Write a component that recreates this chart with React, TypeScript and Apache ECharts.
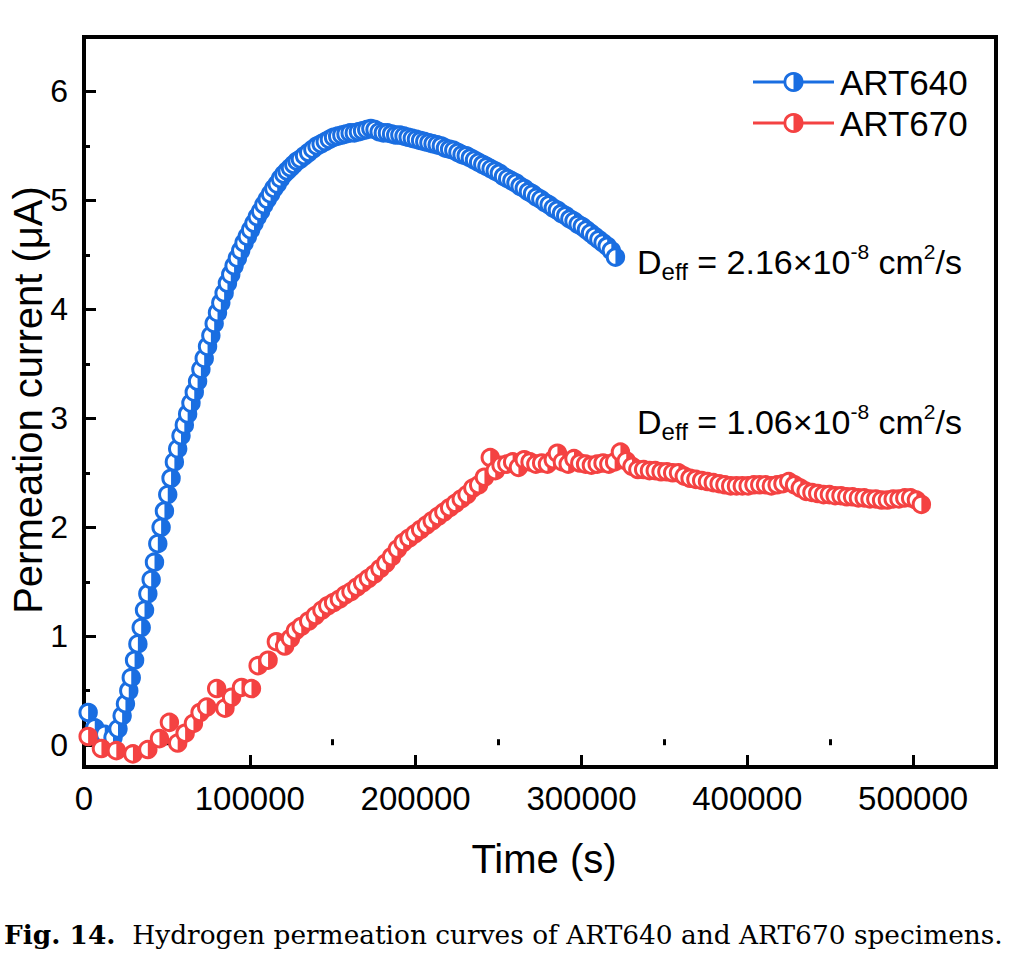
import React, { useEffect, useRef } from "react";
import * as echarts from "echarts";

// ---------- data ----------
const art640Time = [
  2500, 6500, 12500, 17500, 20500, 23000, 25000, 27000, 28500, 30500, 32500, 34500, 36500, 38500, 40500,
  42500, 44500, 46500, 48500, 50500, 52500, 54500, 56500, 58500, 60500, 62500, 64500, 66500, 68500, 70500,
  72500, 74500, 76500, 78500, 80500, 82500, 84500, 86500, 88500, 90500, 92500, 94500, 96500, 98500, 100500,
  102500, 104500, 106500, 108500, 110500, 112500, 114500, 116500, 118500, 120500, 122500, 124500, 126500,
  128500, 130500, 133000, 135500, 138000, 140500, 143000, 145500, 148000, 150500, 153000, 155500, 158000,
  160500, 163000, 165500, 168000, 170500, 173000, 175500, 178000, 180500, 183000, 185500, 188000, 190500,
  193000, 195500, 198000, 200500, 203000, 205500, 208000, 210500, 213000, 215500, 218000, 220500, 223000,
  225500, 228000, 230500, 233000, 235500, 238000, 240500, 243000, 245500, 248000, 250500, 253000, 255500,
  258000, 260500, 263000, 265500, 268000, 270500, 273000, 275500, 278000, 280500, 283000, 285500, 288000,
  290500, 293000, 295500, 298000, 300500, 303000, 305500, 308000, 310500, 313000, 315500, 318000, 320500,
];
const art640Current = [
  0.30, 0.16, 0.10, 0.07, 0.15, 0.27, 0.38, 0.50, 0.62, 0.78, 0.93, 1.08, 1.24, 1.39, 1.52,
  1.68, 1.85, 2.00, 2.15, 2.30, 2.45, 2.60, 2.72, 2.84, 2.94, 3.04, 3.14, 3.24, 3.34, 3.45,
  3.55, 3.66, 3.76, 3.87, 3.97, 4.06, 4.15, 4.24, 4.32, 4.40, 4.47, 4.54, 4.61, 4.67, 4.73,
  4.79, 4.85, 4.90, 4.96, 5.01, 5.06, 5.11, 5.15, 5.20, 5.24, 5.27, 5.30, 5.33,
  5.36, 5.38, 5.41, 5.44, 5.47, 5.50, 5.52, 5.54, 5.56, 5.58, 5.59, 5.60, 5.61,
  5.62, 5.62, 5.63, 5.64, 5.65, 5.66, 5.65, 5.63, 5.62, 5.62, 5.61, 5.60, 5.60,
  5.59, 5.58, 5.57, 5.56, 5.55, 5.54, 5.53, 5.52, 5.51, 5.50, 5.48, 5.47, 5.46,
  5.44, 5.42, 5.41, 5.39, 5.37, 5.35, 5.33, 5.31, 5.29, 5.27, 5.25, 5.22, 5.20,
  5.18, 5.16, 5.13, 5.11, 5.08, 5.06, 5.03, 5.01, 4.98, 4.96, 4.93, 4.91, 4.88,
  4.86, 4.83, 4.81, 4.78, 4.76, 4.73, 4.70, 4.67, 4.64, 4.61, 4.58, 4.54, 4.48,
];

const art670Time = [
  2500, 10500, 19500, 29500, 38500, 45500, 51500, 56500, 61000, 66000, 70000, 74000, 80000, 85000, 89000,
  95000, 101000, 105000, 111000, 116000, 121000, 124500, 127500, 131000, 135500, 139500, 143500, 147000,
  150500, 154000, 157500, 161000, 164500, 168000, 171500, 175000, 178500, 182000, 185500, 189000, 192500,
  196000, 199500, 203000, 206500, 210000, 213500, 217000, 220500, 224000, 227500, 231000, 234500, 238000,
  241500, 245000, 248000, 251500, 255000, 258500, 262000, 265500, 269000, 272500, 276000, 279500, 283000,
  285500, 288500, 292000, 295500, 299000, 302500, 306000, 309500, 313000, 316500, 320000, 323500, 327000,
  330500, 334000, 337500, 341000, 344500, 348000, 351500, 355000, 358500, 362000, 365500, 369000, 372500,
  376000, 379500, 383000, 386500, 390000, 393500, 397000, 400500, 404000, 407500, 411000, 414500, 418000,
  421500, 425000, 428500, 432000, 435500, 439000, 442500, 446000, 449500, 453000, 456500, 460000, 463500,
  467000, 470500, 474000, 477500, 481000, 484500, 488000, 491500, 495000, 498500, 502000, 505000,
];
const art670Current = [
  0.08, -0.03, -0.05, -0.08, -0.04, 0.06, 0.21, 0.02, 0.11, 0.20, 0.30, 0.35, 0.52, 0.34, 0.44,
  0.53, 0.52, 0.73, 0.78, 0.95, 0.91, 0.98, 1.05, 1.09, 1.14, 1.19, 1.24, 1.28,
  1.31, 1.34, 1.38, 1.41, 1.45, 1.49, 1.53, 1.57, 1.62, 1.67, 1.73, 1.80, 1.86,
  1.90, 1.94, 1.98, 2.02, 2.06, 2.10, 2.14, 2.18, 2.22, 2.26, 2.30, 2.36, 2.39,
  2.46, 2.64, 2.52, 2.57, 2.58, 2.60, 2.55, 2.62, 2.60, 2.58, 2.59, 2.58, 2.62,
  2.68, 2.60, 2.58, 2.63, 2.59, 2.58, 2.57, 2.58, 2.59, 2.58, 2.60, 2.69, 2.61,
  2.56, 2.53, 2.53, 2.52, 2.52, 2.51, 2.51, 2.50, 2.50, 2.47, 2.45, 2.44, 2.43,
  2.42, 2.41, 2.40, 2.39, 2.38, 2.38, 2.38, 2.38, 2.39, 2.39, 2.39, 2.38, 2.39,
  2.40, 2.42, 2.39, 2.36, 2.33, 2.32, 2.31, 2.30, 2.30, 2.29, 2.29, 2.28, 2.28,
  2.27, 2.27, 2.26, 2.26, 2.25, 2.25, 2.26, 2.26, 2.27, 2.27, 2.25, 2.21,
];

const xMajorTicks = [0, 100000, 200000, 300000, 400000, 500000];
const xMinorTicks = [50000, 150000, 250000, 350000, 450000];
const yMajorTicks = [0, 1, 2, 3, 4, 5, 6];
const yMinorTicks = [0.5, 1.5, 2.5, 3.5, 4.5, 5.5];

const seriesNames = ["ART640", "ART670"];
const deffLabels = ["2.16", "1.06"];

const BLUE = "#1A6EE1";
const RED = "#F44242";
const FONT = "Liberation Sans";
const MARK_R = 8.2;
const MARK_LW = 3;

function pairs(t: number[], v: number[]) {
  return t.map((x, i) => [x, v[i]]);
}

function makeRenderItem(color: string) {
  return (params: any, api: any) => {
    const p = api.coord([api.value(0), api.value(1)]);
    return {
      type: "group",
      children: [
        {
          type: "circle",
          shape: { cx: p[0], cy: p[1], r: MARK_R },
          style: { fill: "#fff", stroke: color, lineWidth: MARK_LW },
        },
        {
          type: "sector",
          shape: {
            cx: p[0],
            cy: p[1],
            r0: 0,
            r: MARK_R,
            startAngle: -Math.PI / 2,
            endAngle: Math.PI / 2,
            clockwise: true,
          },
          style: { fill: color },
        },
      ],
    };
  };
}

function legendItem(y: number, color: string, label: string) {
  return [
    {
      type: "line",
      shape: { x1: 753, y1: y, x2: 834, y2: y },
      style: { stroke: color, lineWidth: 3 },
    },
    {
      type: "circle",
      shape: { cx: 793.5, cy: y, r: 8.6 },
      style: { fill: "#fff", stroke: color, lineWidth: 2.8 },
    },
    {
      type: "sector",
      shape: { cx: 793.5, cy: y, r0: 0, r: 8.6, startAngle: -Math.PI / 2, endAngle: Math.PI / 2, clockwise: true },
      style: { fill: color },
    },
    {
      type: "text",
      x: 840,
      y: y,
      style: { text: label, fill: "#000", font: `35px "${FONT}"`, align: "left", verticalAlign: "middle" },
    },
  ];
}

function deffText(x: number, y: number, val: string) {
  return {
    type: "text",
    x,
    y,
    style: {
      text: `{d|D}{sub|eff}{d| = ${val}×10}{sup|-8}{d| cm}{sup|2}{d|/s}`,
      align: "left",
      verticalAlign: "middle",
      fill: "#000",
      rich: {
        d: { fontSize: 34, fontFamily: FONT, lineHeight: 42, verticalAlign: "middle", fill: "#000" },
        sub: { fontSize: 24, fontFamily: FONT, lineHeight: 19, verticalAlign: "bottom", fill: "#000" },
        sup: { fontSize: 21, fontFamily: FONT, lineHeight: 17, verticalAlign: "top", fill: "#000" },
      },
    },
  };
}

export default function App() {
  const ref = useRef<HTMLDivElement>(null);

  useEffect(() => {
    if (!ref.current) return;
    const chart = echarts.init(ref.current, null, { renderer: "svg" });

    const axisLineStyle = { color: "#000", width: 4 };

    const option: any = {
      animation: false,
      backgroundColor: "#fff",
      textStyle: { fontFamily: FONT },
      grid: {
        left: 84,
        right: 24,
        top: 37,
        bottom: 193,
        show: true,
        borderColor: "#000",
        borderWidth: 4,
        backgroundColor: "transparent",
      },
      xAxis: [
        {
          type: "value",
          min: 0,
          max: 550000,
          position: "bottom",
          axisLine: { show: true, onZero: false, lineStyle: axisLineStyle },
          axisTick: { show: true, inside: true, length: 12, lineStyle: { width: 3, color: "#000" }, customValues: xMajorTicks },
          axisLabel: {
            show: true,
            customValues: xMajorTicks,
            margin: 15,
            fontSize: 33,
            color: "#000",
            fontFamily: FONT,
            formatter: (v: number) => String(v),
          },
          splitLine: { show: false },
        },
        {
          type: "value",
          min: 0,
          max: 550000,
          position: "bottom",
          axisLine: { show: false },
          axisTick: { show: true, inside: true, length: 6, lineStyle: { width: 3, color: "#000" }, customValues: xMinorTicks },
          axisLabel: { show: false },
          splitLine: { show: false },
        },
      ],
      yAxis: [
        {
          type: "value",
          min: -0.2,
          max: 6.5,
          position: "left",
          axisLine: { show: true, onZero: false, lineStyle: axisLineStyle },
          axisTick: { show: true, inside: true, length: 12, lineStyle: { width: 3, color: "#000" }, customValues: yMajorTicks },
          axisLabel: {
            show: true,
            customValues: yMajorTicks,
            margin: 16,
            fontSize: 32,
            color: "#000",
            fontFamily: FONT,
            formatter: (v: number) => String(v),
          },
          splitLine: { show: false },
        },
        {
          type: "value",
          min: -0.2,
          max: 6.5,
          position: "left",
          axisLine: { show: false },
          axisTick: { show: true, inside: true, length: 6, lineStyle: { width: 3, color: "#000" }, customValues: yMinorTicks },
          axisLabel: { show: false },
          splitLine: { show: false },
        },
      ],
      series: [
        {
          name: seriesNames[0],
          type: "custom",
          xAxisIndex: 0,
          yAxisIndex: 0,
          data: pairs(art640Time, art640Current),
          encode: { x: 0, y: 1 },
          renderItem: makeRenderItem(BLUE),
          z: 2,
        },
        {
          name: seriesNames[1],
          type: "custom",
          xAxisIndex: 0,
          yAxisIndex: 0,
          data: pairs(art670Time, art670Current),
          encode: { x: 0, y: 1 },
          renderItem: makeRenderItem(RED),
          z: 3,
        },
      ],
      graphic: [
        ...legendItem(82, BLUE, seriesNames[0]),
        ...legendItem(123, RED, seriesNames[1]),
        deffText(637, 262, deffLabels[0]),
        deffText(637, 422, deffLabels[1]),
        {
          type: "text",
          x: 544,
          y: 859,
          style: { text: "Time (s)", font: `40px "${FONT}"`, fill: "#000", align: "center", verticalAlign: "middle" },
        },
        {
          type: "text",
          x: 28,
          y: 400,
          rotation: Math.PI / 2,
          style: {
            text: "Permeation current (μA)",
            font: `40px "${FONT}"`,
            fill: "#000",
            align: "center",
            verticalAlign: "middle",
          },
        },
        {
          type: "text",
          x: 4,
          y: 934,
          style: {
            text: "{b|Fig. 14.}{r|  Hydrogen permeation curves of ART640 and ART670 specimens.}",
            align: "left",
            verticalAlign: "middle",
            rich: {
              b: { fontSize: 26.4, fontFamily: "DejaVu Serif", fontWeight: "bold", fill: "#000" },
              r: { fontSize: 26.4, fontFamily: "DejaVu Serif", fill: "#000" },
            },
          },
        },
      ],
    };

    chart.setOption(option);
    return () => chart.dispose();
  }, []);

  return (
    <div
      ref={ref}
      style={{ position: "fixed", left: 0, top: 0, width: 1020, height: 960, background: "#fff" }}
    />
  );
}
